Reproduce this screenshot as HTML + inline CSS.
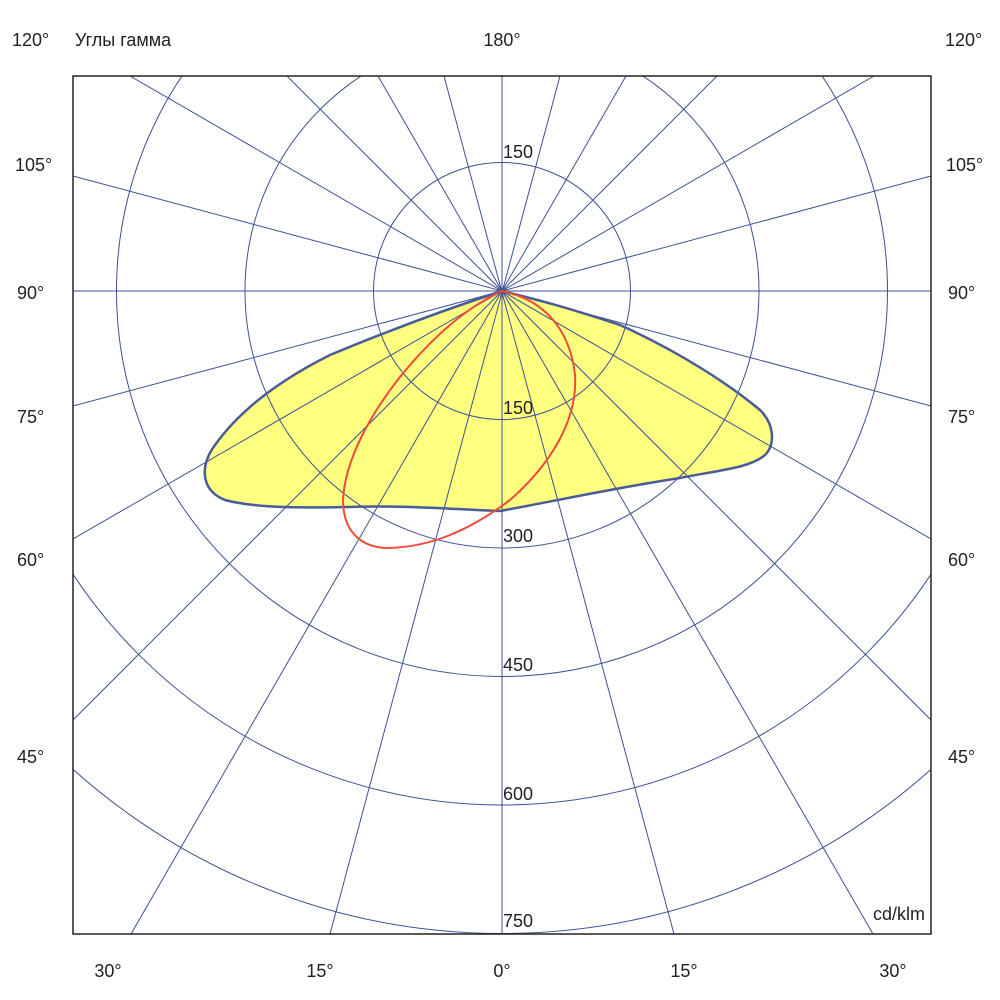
<!DOCTYPE html>
<html><head><meta charset="utf-8"><style>html,body{margin:0;padding:0;background:#fff;width:1000px;height:1000px;overflow:hidden}svg{display:block}text{font-family:"Liberation Sans",sans-serif;font-size:18px;fill:#222}</style></head><body>
<svg width="1000" height="1000" viewBox="0 0 1000 1000" xmlns="http://www.w3.org/2000/svg">
<defs><clipPath id="c"><rect x="73" y="76" width="858" height="858"/></clipPath></defs>
<g clip-path="url(#c)">
<path d="M502,291 C530,298 560,305 620,325 C680,352 730,385 760,410 C775,425 775,445 765,455 C750,468 720,470 680,478 C620,487 560,500 500,511 C450,509 400,505 350,507 C300,508 255,508 225,500 C200,490 200,465 215,445 C240,410 280,380 330,355 C390,330 450,308 502,291 Z" fill="#ffff80"/>
<g stroke="#3c5294" stroke-width="1" fill="none">
<circle cx="502" cy="291" r="128.5"/><circle cx="502" cy="291" r="257"/><circle cx="502" cy="291" r="385.5"/><circle cx="502" cy="291" r="514"/><circle cx="502" cy="291" r="642.5"/>
</g>
<g stroke="#3c5294" stroke-width="1">
<line x1="73" y1="291" x2="931" y2="291"/>
<line x1="502" y1="76" x2="502" y2="934"/>
<line x1="73" y1="176" x2="931" y2="406"/>
<line x1="73" y1="406" x2="931" y2="176"/>
<line x1="130" y1="76" x2="931" y2="539"/>
<line x1="874" y1="76" x2="73" y2="539"/>
<line x1="287" y1="76" x2="931" y2="720"/>
<line x1="717" y1="76" x2="73" y2="720"/>
<line x1="378" y1="76" x2="873" y2="934"/>
<line x1="626" y1="76" x2="131" y2="934"/>
<line x1="444" y1="76" x2="674" y2="934"/>
<line x1="560" y1="76" x2="330" y2="934"/>
</g>
<path d="M502,291 C530,298 560,305 620,325 C680,352 730,385 760,410 C775,425 775,445 765,455 C750,468 720,470 680,478 C620,487 560,500 500,511 C450,509 400,505 350,507 C300,508 255,508 225,500 C200,490 200,465 215,445 C240,410 280,380 330,355 C390,330 450,308 502,291 Z" fill="none" stroke="#4a5c98" stroke-width="2.5"/>
<path d="M502,291 C545,300 570,330 575,375 C578,420 550,465 510,500 C470,530 430,548 385,548 C355,546 343,525 343,500 C345,460 370,415 400,377 C430,340 465,308 502,291 Z" fill="none" stroke="#f04a3a" stroke-width="2"/>
</g>
<rect x="73" y="76" width="858" height="858" fill="none" stroke="#222" stroke-width="1.5"/>
<text x="12" y="46">120°</text><text x="75" y="46">Углы гамма</text><text x="502" y="46" text-anchor="middle">180°</text><text x="945" y="46">120°</text>
<text x="15" y="171">105°</text><text x="17" y="299">90°</text><text x="17" y="423">75°</text><text x="17" y="566">60°</text><text x="17" y="763">45°</text>
<text x="946" y="171">105°</text><text x="948" y="299">90°</text><text x="948" y="423">75°</text><text x="948" y="566">60°</text><text x="948" y="763">45°</text>
<text x="108" y="977" text-anchor="middle">30°</text><text x="320" y="977" text-anchor="middle">15°</text><text x="502" y="977" text-anchor="middle">0°</text><text x="684" y="977" text-anchor="middle">15°</text><text x="893" y="977" text-anchor="middle">30°</text>
<text x="503" y="158">150</text><text x="503" y="414">150</text><text x="503" y="542">300</text><text x="503" y="671">450</text><text x="503" y="800">600</text><text x="503" y="927">750</text>
<text x="925" y="920" text-anchor="end">cd/klm</text>
</svg>
</body></html>
